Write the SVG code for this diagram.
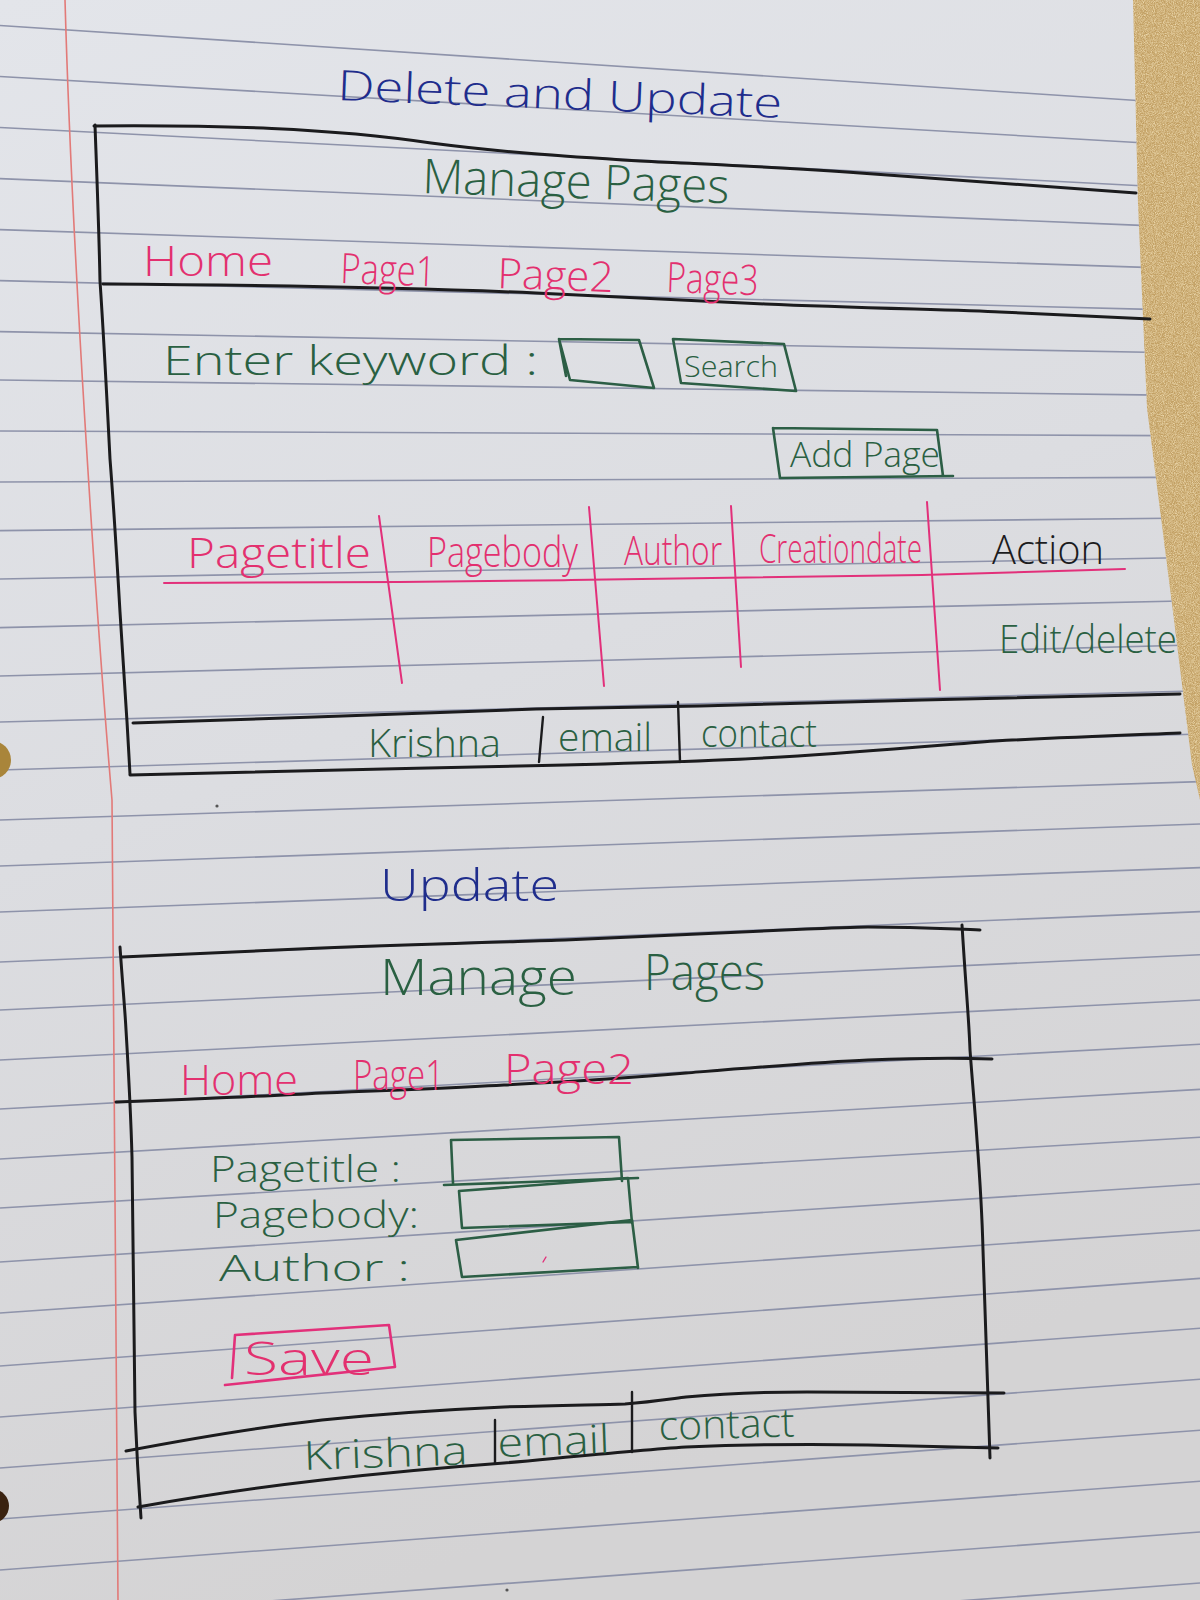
<svg xmlns="http://www.w3.org/2000/svg" width="1200" height="1600" viewBox="0 0 1200 1600">
  <defs>
    <linearGradient id="paperShade" x1="0" y1="0" x2="0.3" y2="1">
      <stop offset="0" stop-color="#e3e5ea"/>
      <stop offset="0.5" stop-color="#dcdde1"/>
      <stop offset="1" stop-color="#d4d3d4"/>
    </linearGradient>
    <clipPath id="paperArea">
      <path d="M0,0 L1133,0 L1138,204 L1147,408 L1173,612 L1192,765 L1200,800 L1200,1600 L0,1600 Z"/>
    </clipPath>
    <filter id="grain" x="0" y="0" width="100%" height="100%">
      <feTurbulence type="fractalNoise" baseFrequency="1.1" numOctaves="2" seed="4" result="n"/>
      <feColorMatrix in="n" type="matrix" values="0 0 0 0 0.95  0 0 0 0 0.82  0 0 0 0 0.55  0 0 0 1.4 -0.45"/>
      <feComposite in2="SourceGraphic" operator="in"/>
    </filter>
    <style>
      .rule { stroke: #8e93aa; stroke-width: 1.6; fill: none; }
      .margin { stroke: #e27a78; stroke-width: 1.6; fill: none; }
      .ink { stroke: #1b1b1d; stroke-width: 3; fill: none; stroke-linecap: round; stroke-linejoin: round; }
      .pinkline { stroke: #e2307a; stroke-width: 2; fill: none; stroke-linecap: round; stroke-linejoin: round; }
      .greenbox { stroke: #2c5e45; stroke-width: 2.6; fill: none; stroke-linecap: round; stroke-linejoin: round; }
      .pinkbox { stroke: #e2307a; stroke-width: 2.6; fill: none; stroke-linecap: round; stroke-linejoin: round; }
      text { font-family: "Open Sans", "Liberation Sans", sans-serif; font-weight: 300; }
      .blue { fill: #1f2d8c; }
      .green { fill: #2a6042; }
      .pink { fill: #e3306f; }
      .black { fill: #1c1c1e; }
    </style>
  </defs>

  <!-- desk surface behind the sheet -->
  <rect x="0" y="0" width="1200" height="1600" fill="#c2a064"/>
  <rect x="0" y="0" width="1200" height="1600" fill="#c2a064" filter="url(#grain)"/>

  <!-- ruled sheet -->
  <g id="sheet">
    <path d="M0,0 L1133,0 L1138,204 L1147,408 L1173,612 L1192,765 L1200,800 L1200,1600 L0,1600 Z" fill="url(#paperShade)"/>
    <g clip-path="url(#paperArea)">
      <g id="rules">
        <line class="rule" x1="0" y1="25.5" x2="1200" y2="104.7"/>
        <line class="rule" x1="0" y1="76.5" x2="1200" y2="146.1"/>
        <line class="rule" x1="0" y1="127.5" x2="1200" y2="188.7"/>
        <line class="rule" x1="0" y1="178.6" x2="1200" y2="227.8"/>
        <line class="rule" x1="0" y1="229.6" x2="1200" y2="269.2"/>
        <line class="rule" x1="0" y1="280.6" x2="1200" y2="310.6"/>
        <line class="rule" x1="0" y1="331.6" x2="1200" y2="353.2"/>
        <line class="rule" x1="0" y1="380" x2="1200" y2="395.6"/>
        <line class="rule" x1="0" y1="431" x2="1200" y2="435.8"/>
        <line class="rule" x1="0" y1="482" x2="1200" y2="477.2"/>
        <line class="rule" x1="0" y1="530.6" x2="1200" y2="517.9"/>
        <line class="rule" x1="0" y1="579" x2="1200" y2="557.4"/>
        <line class="rule" x1="0" y1="627.6" x2="1200" y2="600.5"/>
        <line class="rule" x1="0" y1="676" x2="1200" y2="644.8"/>
        <line class="rule" x1="0" y1="722" x2="1200" y2="690.8"/>
        <line class="rule" x1="0" y1="770" x2="1200" y2="734"/>
        <line class="rule" x1="0" y1="820" x2="1200" y2="781.6"/>
        <line class="rule" x1="0" y1="866" x2="1200" y2="824"/>
        <line class="rule" x1="0" y1="912" x2="1200" y2="867.6"/>
        <line class="rule" x1="0" y1="962" x2="1200" y2="911.6"/>
        <line class="rule" x1="0" y1="1010" x2="1200" y2="954.8"/>
        <line class="rule" x1="0" y1="1060" x2="1200" y2="1000"/>
        <line class="rule" x1="0" y1="1109" x2="1200" y2="1044.2"/>
        <line class="rule" x1="0" y1="1159" x2="1200" y2="1089.4"/>
        <line class="rule" x1="0" y1="1208" x2="1200" y2="1137.2"/>
        <line class="rule" x1="0" y1="1262" x2="1200" y2="1184"/>
        <line class="rule" x1="0" y1="1313" x2="1200" y2="1230.2"/>
        <line class="rule" x1="0" y1="1366" x2="1200" y2="1278.4"/>
        <line class="rule" x1="0" y1="1417" x2="1200" y2="1328.2"/>
        <line class="rule" x1="0" y1="1468" x2="1200" y2="1379.2"/>
        <line class="rule" x1="0" y1="1519" x2="1200" y2="1430.2"/>
        <line class="rule" x1="0" y1="1570" x2="1200" y2="1481.2"/>
        <line class="rule" x1="0" y1="1621" x2="1200" y2="1532"/>
        <line class="rule" x1="0" y1="1672" x2="1200" y2="1583"/>
      </g>
      <path class="margin" d="M65,0 C72,250 95,600 112,800 L118,1600"/>
    </g>
    <!-- punched holes -->
    <circle cx="-8" cy="760" r="19" fill="#a9853a"/>
    <circle cx="-8" cy="1506" r="17" fill="#3a2210"/>
    <!-- stray pen dots -->
    <circle cx="217" cy="806" r="1.6" fill="#555"/>
    <circle cx="507" cy="1590" r="1.6" fill="#555"/>
  </g>

  <!-- Screen 1: Delete and Update -->
  <g id="screen-delete-update">
    <text id="title-delete-update" class="blue" x="337" y="100" font-size="42" textLength="445" lengthAdjust="spacingAndGlyphs" transform="rotate(2.3 337 100)">Delete and Update</text>

    <g id="frame1">
      <path class="ink" d="M95,125 C97,180 99,230 100,281 C104,340 107,400 110,459 C114,510 117,560 120,612 C124,670 127,720 130,774"/>
      <path class="ink" d="M94,126 C220,125 330,128 431,143 C500,152 560,156 640,161 C720,165 780,167 860,173 C960,181 1050,186 1136,193"/>
      <path class="ink" d="M103,284 C250,285 420,288 536,293 C620,297 700,301 765,304 C860,308 960,310 1000,312 C1060,315 1110,317 1150,319"/>
      <path class="ink" d="M133,723 C250,720 440,712 536,709 C620,707 660,707 700,706 C800,703 860,701 922,700 C1030,697 1110,695 1180,694"/>
      <path class="ink" d="M130,775 C260,772 420,768 565,765 C680,762 730,760 781,757 C880,751 940,745 995,741 C1070,737 1130,735 1180,733"/>
    </g>

    <g id="header1">
      <text class="green" x="422" y="193" font-size="48" textLength="307" lengthAdjust="spacingAndGlyphs" transform="rotate(1.9 422 193)">Manage Pages</text>
    </g>

    <g id="nav1">
      <text class="pink" x="143" y="276" font-size="42" textLength="130" lengthAdjust="spacingAndGlyphs">Home</text>
      <text class="pink" x="340" y="283" font-size="42" textLength="95" lengthAdjust="spacingAndGlyphs" transform="rotate(2 340 283)">Page1</text>
      <text class="pink" x="497" y="288" font-size="42" textLength="116" lengthAdjust="spacingAndGlyphs" transform="rotate(2 497 288)">Page2</text>
      <text class="pink" x="666" y="292" font-size="42" textLength="92" lengthAdjust="spacingAndGlyphs" transform="rotate(2 666 292)">Page3</text>
    </g>

    <g id="search-row">
      <text class="green" x="163" y="375" font-size="40" textLength="375" lengthAdjust="spacingAndGlyphs">Enter keyword :</text>
      <path class="greenbox" d="M559,339 L639,340 L654,388 L570,380 Z M559,339 L566,376"/>
      <path class="greenbox" d="M673,339 L784,344 L796,391 L681,383 Z"/>
      <text class="green" x="684" y="377" font-size="30" textLength="94" lengthAdjust="spacingAndGlyphs">Search</text>
    </g>

    <g id="add-page">
      <path class="greenbox" d="M773,428 L937,430 L943,476 M773,428 L780,478 M780,478 L953,476"/>
      <text class="green" x="790" y="467" font-size="34" textLength="150" lengthAdjust="spacingAndGlyphs">Add Page</text>
    </g>

    <g id="table1">
      <path class="pinkline" d="M164,583 C260,583 330,582 400,582 C470,581 520,581 571,580 C700,578 820,577 922,575 C1000,573 1060,571 1125,569"/>
      <path class="pinkline" d="M379,516 L402,683"/>
      <path class="pinkline" d="M589,507 L604,686"/>
      <path class="pinkline" d="M731,506 L741,667"/>
      <path class="pinkline" d="M927,502 L940,690"/>
      <text class="pink" x="187" y="568" font-size="42" textLength="184" lengthAdjust="spacingAndGlyphs">Pagetitle</text>
      <text class="pink" x="427" y="567" font-size="42" textLength="151" lengthAdjust="spacingAndGlyphs">Pagebody</text>
      <text class="pink" x="624" y="565" font-size="40" textLength="98" lengthAdjust="spacingAndGlyphs">Author</text>
      <text class="pink" x="759" y="563" font-size="40" textLength="163" lengthAdjust="spacingAndGlyphs">Creationdate</text>
      <text class="black" x="992" y="564" font-size="40" textLength="112" lengthAdjust="spacingAndGlyphs">Action</text>
      <text class="green" x="999" y="653" font-size="38" textLength="178" lengthAdjust="spacingAndGlyphs">Edit/delete</text>
    </g>

    <g id="footer1">
      <path class="ink" style="stroke-width:2.4" d="M543,717 L539,762"/>
      <path class="ink" style="stroke-width:2.4" d="M678,702 L680,762"/>
      <text class="green" x="368" y="757" font-size="38" textLength="133" lengthAdjust="spacingAndGlyphs">Krishna</text>
      <text class="green" x="558" y="751" font-size="38" textLength="94" lengthAdjust="spacingAndGlyphs">email</text>
      <text class="green" x="701" y="747" font-size="38" textLength="116" lengthAdjust="spacingAndGlyphs">contact</text>
    </g>
  </g>

  <!-- Screen 2: Update -->
  <g id="screen-update">
    <text id="title-update" class="blue" x="380" y="901" font-size="44" textLength="179" lengthAdjust="spacingAndGlyphs">Update</text>

    <g id="frame2">
      <path class="ink" d="M120,947 C123,990 125,1010 126,1030 C129,1080 131,1120 132,1157 C133,1250 134,1340 135,1412 C137,1460 139,1490 141,1518"/>
      <path class="ink" d="M962,925 C966,990 969,1020 970,1050 C973,1090 975,1110 977,1140 C980,1180 982,1210 983,1250 C986,1330 988,1400 990,1458"/>
      <path class="ink" d="M122,957 C220,953 270,950 322,948 C420,944 500,942 565,940 C660,936 740,932 807,929 C840,928 855,927 868,927 C920,927 950,929 980,930"/>
      <path class="ink" d="M116,1102 C220,1098 270,1096 322,1093 C400,1090 450,1088 504,1085 C580,1081 640,1077 686,1073 C760,1067 820,1062 868,1060 C920,1058 960,1058 992,1059"/>
      <path class="ink" d="M126,1451 C200,1437 260,1427 322,1420 C400,1412 460,1409 504,1407 C560,1405 600,1405 625,1404 C650,1402 670,1399 686,1397 C730,1393 770,1392 807,1392 C880,1392 950,1393 1004,1393"/>
      <path class="ink" d="M138,1507 C200,1496 260,1487 322,1480 C400,1471 450,1467 504,1463 C580,1456 640,1450 686,1447 C760,1444 820,1444 868,1445 C920,1446 960,1447 998,1448"/>
    </g>

    <g id="header2">
      <text class="green" x="380" y="995" font-size="50" textLength="197" lengthAdjust="spacingAndGlyphs">Manage</text>
      <text class="green" x="644" y="990" font-size="50" textLength="121" lengthAdjust="spacingAndGlyphs">Pages</text>
    </g>

    <g id="nav2">
      <text class="pink" x="180" y="1095" font-size="42" textLength="118" lengthAdjust="spacingAndGlyphs">Home</text>
      <text class="pink" x="353" y="1090" font-size="42" textLength="91" lengthAdjust="spacingAndGlyphs">Page1</text>
      <text class="pink" x="504" y="1084" font-size="42" textLength="130" lengthAdjust="spacingAndGlyphs">Page2</text>
    </g>

    <g id="form">
      <text class="green" x="210" y="1182" font-size="36" textLength="191" lengthAdjust="spacingAndGlyphs">Pagetitle :</text>
      <text class="green" x="213" y="1228" font-size="36" textLength="206" lengthAdjust="spacingAndGlyphs">Pagebody:</text>
      <text class="green" x="219" y="1281" font-size="36" textLength="191" lengthAdjust="spacingAndGlyphs">Author :</text>
      <path class="greenbox" d="M451,1140 L619,1137 L622,1181 M451,1140 L453,1183 M444,1185 L638,1178"/>
      <path class="greenbox" d="M459,1191 L628,1178 L632,1223 M459,1191 L462,1228 L632,1222"/>
      <path class="greenbox" d="M456,1240 L632,1220 L638,1268 M456,1240 L462,1277 L638,1267"/>
      <path class="pinkline" style="stroke-width:1.4" d="M543,1262 L546,1257"/>
    </g>

    <g id="save-button">
      <path class="pinkbox" d="M235,1335 L389,1325 L395,1367 M235,1335 L232,1378 M225,1385 L395,1367"/>
      <text class="pink" x="244" y="1375" font-size="46" textLength="130" lengthAdjust="spacingAndGlyphs">Save</text>
    </g>

    <g id="footer2">
      <path class="ink" style="stroke-width:2.4" d="M495,1420 L495,1463"/>
      <path class="ink" style="stroke-width:2.4" d="M632,1392 L632,1452"/>
      <text class="green" x="304" y="1470" font-size="40" textLength="164" lengthAdjust="spacingAndGlyphs" transform="rotate(-2 304 1470)">Krishna</text>
      <text class="green" x="498" y="1457" font-size="40" textLength="112" lengthAdjust="spacingAndGlyphs" transform="rotate(-2 498 1457)">email</text>
      <text class="green" x="659" y="1440" font-size="40" textLength="136" lengthAdjust="spacingAndGlyphs" transform="rotate(-1.5 659 1440)">contact</text>
    </g>
  </g>
</svg>
